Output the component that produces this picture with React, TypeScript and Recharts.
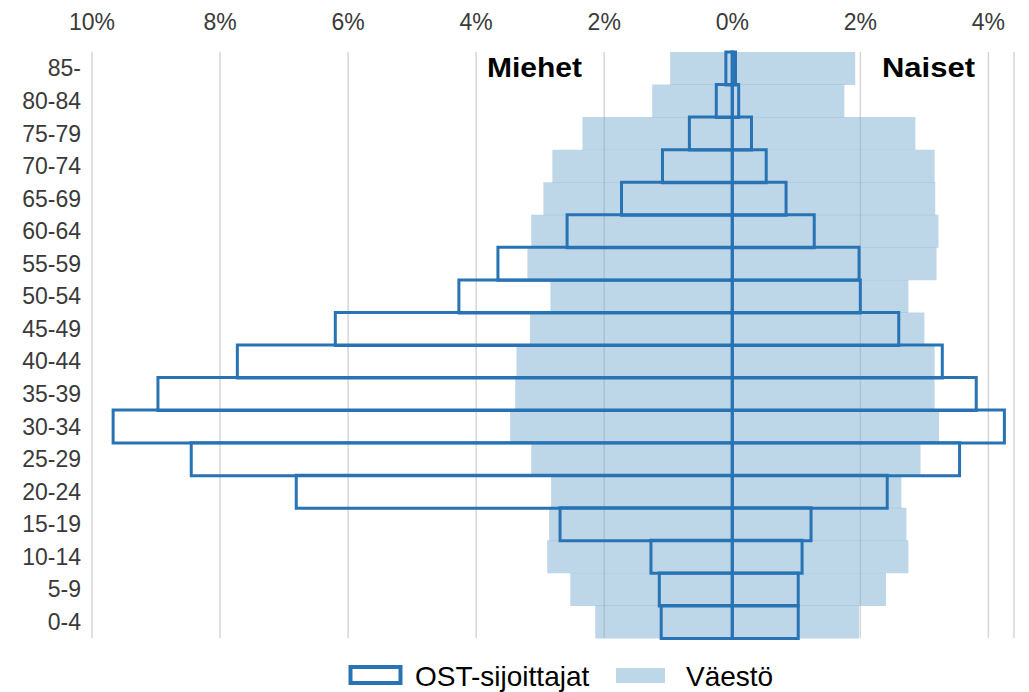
import React from 'react'
import { BarChart, Bar, XAxis, YAxis, CartesianGrid, Legend } from 'recharts'

// age groups, oldest on top
const ageGroups = ['85-', '80-84', '75-79', '70-74', '65-69', '60-64', '55-59', '50-54', '45-49', '40-44', '35-39', '30-34', '25-29', '20-24', '15-19', '10-14', '5-9', '0-4']

// % shares, men are drawn to the left
const popMen = [0.97, 1.25, 2.34, 2.81, 2.95, 3.14, 3.2, 2.84, 3.16, 3.37, 3.39, 3.47, 3.14, 2.83, 2.86, 2.89, 2.53, 2.14]
const popWomen = [1.92, 1.75, 2.86, 3.16, 3.17, 3.22, 3.19, 2.75, 3.0, 3.16, 3.16, 3.23, 2.94, 2.64, 2.72, 2.75, 2.4, 1.98]
const ostMen = [0.1, 0.25, 0.67, 1.09, 1.73, 2.58, 3.66, 4.27, 6.2, 7.73, 8.97, 9.67, 8.45, 6.81, 2.69, 1.27, 1.14, 1.11]
const ostWomen = [0.05, 0.1, 0.3, 0.53, 0.84, 1.28, 1.98, 2.0, 2.6, 3.28, 3.81, 4.25, 3.55, 2.42, 1.23, 1.09, 1.03, 1.03]

const xTicks = [-10, -8, -6, -4, -2, 0, 2, 4]
const seriesNames = ['OST-sijoittajat', 'Väestö']

const data = ageGroups.map((age, i) => ({
  age,
  popMen: -popMen[i],
  popWomen: popWomen[i],
  ostMen: -ostMen[i],
  ostWomen: ostWomen[i],
}))

const font = '"Liberation Sans", Arial, sans-serif'
const ostColor = '#2873b4'
const popColor = '#bdd7e9'

const LegendBox = () => (
  <svg width={1029} height={54} style={{ display: 'block' }}>
    <rect x={350.5} y={29} width={50} height={16} fill="none" stroke={ostColor} strokeWidth={4} />
    <text x={415} y={48} fontSize={28} fontFamily={font} fill="#000">{seriesNames[0]}</text>
    <rect x={616} y={30} width={49} height={15} fill={popColor} />
    <text x={686} y={48} fontSize={28} fontFamily={font} fill="#000">{seriesNames[1]}</text>
  </svg>
)

export default function App() {
  return (
    <div style={{ position: 'absolute', left: 0, top: 0, width: 1029, height: 692, background: '#fff' }}>
      <BarChart
        width={1029}
        height={692}
        data={data}
        layout="vertical"
        stackOffset="sign"
        barCategoryGap={0}
        margin={{ top: 0, right: 15, bottom: 0, left: 0 }}
      >
        <CartesianGrid horizontal={false} stroke="#d6d6d6" strokeWidth={1.5} />
        <XAxis
          type="number"
          orientation="top"
          domain={[-10, 4.4]}
          ticks={xTicks}
          tickFormatter={(v) => `${Math.abs(v)}%`}
          height={52}
          tickSize={0}
          tickMargin={22}
          axisLine={false}
          tickLine={false}
          tick={{ fill: '#3a3a3a', fontSize: 23, fontFamily: font }}
        />
        <YAxis
          yAxisId={0}
          type="category"
          dataKey="age"
          width={92}
          interval={0}
          tickSize={0}
          tickMargin={11}
          axisLine={false}
          tickLine={false}
          tick={{ fill: '#3a3a3a', fontSize: 23, fontFamily: font }}
        />
        <YAxis yAxisId={1} type="category" dataKey="age" hide />
        <Bar yAxisId={0} dataKey="popMen" stackId="pop" fill="#7badd1" fillOpacity={0.5} isAnimationActive={false} legendType="none" />
        <Bar yAxisId={0} dataKey="popWomen" stackId="pop" fill="#7badd1" fillOpacity={0.5} isAnimationActive={false} legendType="none" />
        <Bar yAxisId={1} dataKey="ostMen" stackId="ost" fill="none" stroke={ostColor} strokeWidth={3} isAnimationActive={false} legendType="none" />
        <Bar yAxisId={1} dataKey="ostWomen" stackId="ost" fill="none" stroke={ostColor} strokeWidth={3} isAnimationActive={false} legendType="none" />
        <Legend
          verticalAlign="bottom"
          content={() => <LegendBox />}
          wrapperStyle={{ left: 0, bottom: 0, width: 1029, height: 54 }}
        />
      </BarChart>
      <svg width={1029} height={100} style={{ position: 'absolute', left: 0, top: 0, pointerEvents: 'none' }}>
        <text x={487} y={77} fontSize={27} fontWeight="bold" fontFamily={font} textLength={95} lengthAdjust="spacingAndGlyphs">Miehet</text>
        <text x={882} y={77} fontSize={27} fontWeight="bold" fontFamily={font} textLength={93} lengthAdjust="spacingAndGlyphs">Naiset</text>
      </svg>
    </div>
  )
}
